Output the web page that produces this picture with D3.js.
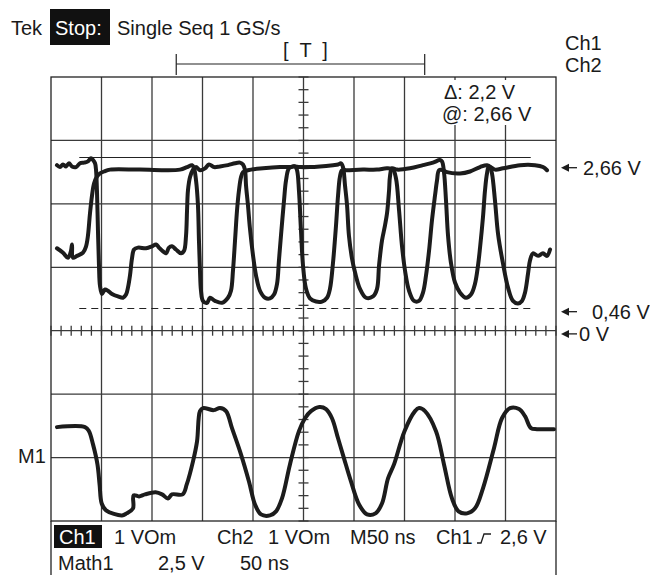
<!DOCTYPE html>
<html>
<head>
<meta charset="utf-8">
<script src="https://cdn.jsdelivr.net/npm/d3@7"></script>
<style>
  body { margin: 0; background: #fff; }
  svg text { font-family: "Liberation Sans", Arial, sans-serif; font-size: 20px; fill: #1a1a1a; }
</style>
</head>
<body>
<svg width="650" height="575"></svg>
<script>
// time in ns (50 ns/div), Ch1/Ch2 in V (1 V/div), Math1 in V (2.5 V/div)
const ch1 = [[5.9,2.61],[8.9,2.58],[11.9,2.62],[14.9,2.59],[17.8,2.64],[20.8,2.59],[24.8,2.58],[28.7,2.64],
  [32.7,2.65],[36.6,2.67],[39.6,2.72],[41.6,2.69],[43.6,2.64],[44.6,2.53],[45.5,2.21],[46.5,1.58],[47.5,1.03],
  [48.5,0.71],[50.5,0.58],[53.5,0.65],[56.4,0.63],[60.4,0.58],[66.3,0.54],[71.3,0.52],[74.3,0.57],[76.2,0.68],
  [78.2,0.87],[80.2,1.14],[82.2,1.28],[86.1,1.31],[94.1,1.30],[100,1.33],[104,1.36],[106.9,1.31],[110.9,1.25],
  [113.9,1.22],[116.8,1.31],[119.8,1.33],[123.8,1.28],[128.7,1.22],[131.7,1.26],[133.7,1.50],[134.7,1.90],
  [135.6,2.21],[137.6,2.42],[140.6,2.54],[143.6,2.58],[147.5,2.53],[152.5,2.56],[156.4,2.62],[161.4,2.58],
  [167.3,2.59],[175.2,2.61],[182.2,2.64],[187.1,2.65],[190.1,2.62],[192.1,2.53],[193.1,2.29],[195,1.98],
  [197,1.61],[200,1.19],[203,0.87],[206.9,0.63],[211.9,0.52],[216.8,0.51],[220.8,0.57],[223.8,0.74],[225.7,1.11],
  [227.7,1.50],[230.7,2.05],[232.7,2.37],[235.6,2.56],[239.6,2.59],[246.5,2.58],[256.4,2.58],[266.3,2.59],
  [279.2,2.61],[284.2,2.62],[287.1,2.64],[289.1,2.58],[291.1,2.29],[293.1,1.98],[295,1.50],[298,1.14],[301,0.92],
  [305.9,0.66],[311.9,0.52],[318.8,0.54],[322.8,0.66],[324.8,1.03],[327.7,1.42],[330.7,1.66],[332.7,1.85],
  [334.7,2.21],[335.6,2.43],[337.6,2.56],[342.6,2.54],[355.4,2.56],[368.3,2.61],[378.2,2.65],[385.1,2.69],
  [387.1,2.67],[389.1,2.50],[391.1,2.05],[393.1,1.50],[396,1.07],[400,0.76],[405,0.60],[410.9,0.52],[415.8,0.57],
  [419.8,0.74],[422.8,1.03],[424.8,1.31],[427.7,1.79],[429.7,2.21],[431.7,2.48],[433.7,2.59],[439.6,2.54],
  [447.5,2.56],[464.4,2.61],[479.2,2.61],[487.1,2.58],[491.1,2.53]];

const ch2 = [[5.9,1.30],[11.9,1.23],[16.8,1.15],[19.8,1.26],[20.8,1.36],[21.8,1.15],[25.7,1.18],[31.7,1.23],
  [34.7,1.33],[36.6,1.50],[38.6,1.85],[40.6,2.13],[42.6,2.32],[45.5,2.43],[48.5,2.48],[52.5,2.51],[58.4,2.54],
  [88.1,2.54],[127.7,2.54],[134.7,2.58],[139.6,2.61],[141.6,2.56],[143.6,2.37],[145.5,1.98],[146.5,1.42],
  [147.5,0.95],[148.5,0.63],[150.5,0.47],[154.5,0.44],[157.4,0.52],[162.4,0.47],[169.3,0.44],[175.2,0.52],
  [178.2,0.63],[180.2,0.95],[182.2,1.42],[184.2,1.90],[186.1,2.21],[188.1,2.42],[190.1,2.50],[195,2.53],
  [209.9,2.56],[226.7,2.58],[236.6,2.58],[241.6,2.59],[243.6,2.53],[245.5,2.21],[247.5,1.58],[249.5,1.03],
  [252.5,0.66],[256.4,0.51],[262.4,0.46],[268.3,0.46],[273.3,0.52],[276.2,0.66],[279.2,1.07],[282.2,1.66],
  [284.2,2.13],[286.1,2.43],[288.1,2.53],[293.1,2.53],[308.9,2.54],[322.8,2.54],[332.7,2.56],[338.6,2.54],
  [341.6,2.40],[344.6,1.90],[347.5,1.34],[350.5,0.95],[354.5,0.63],[359.4,0.47],[364.4,0.47],[368.3,0.60],
  [371.3,0.87],[374.3,1.26],[377.2,1.74],[380.2,2.13],[382.2,2.37],[384.2,2.53],[388.1,2.53],[392.1,2.50],
  [405,2.48],[414.9,2.51],[424.8,2.58],[431.7,2.61],[434.7,2.58],[436.6,2.48],[439.6,2.05],[442.6,1.53],
  [447.5,1.06],[452.5,0.68],[457.4,0.47],[462.4,0.43],[466.3,0.47],[469.3,0.60],[472.3,0.90],[474.3,1.11],
  [477.2,1.22],[482.2,1.18],[487.1,1.22],[491.1,1.18],[494.1,1.28]];

const math1 = [[5.9,1.15],[33.7,1.15],[37.6,0.99],[41.6,0.47],[46,-0.32],[48.1,-1.11],[50.2,-1.86],[54.5,-2.13],
  [70.3,-2.33],[74.8,-2.25],[81.2,-2.05],[81.8,-1.54],[87.1,-1.58],[93.1,-1.50],[103.6,-1.42],[109.9,-1.50],
  [115.8,-1.66],[119.8,-1.50],[130.3,-1.50],[134.4,-1.11],[140.6,-0.20],[144.6,0.59],[147.5,1.78],[150.5,1.90],
  [161.1,1.82],[167.3,1.90],[173.3,1.78],[179.2,1.11],[188.1,0.08],[196,-0.99],[202,-1.90],[207.9,-2.29],
  [216.8,-2.33],[222.8,-2.17],[228.7,-1.66],[236.6,-0.32],[245.5,0.99],[251.5,1.50],[257.4,1.78],[265.8,1.94],
  [272.3,1.86],[278.2,1.50],[284.2,0.71],[290.1,-0.08],[297,-0.99],[305,-1.90],[312.9,-2.29],[321.3,-2.25],
  [327.7,-1.86],[333.7,-0.87],[339.6,-0.32],[350,0.99],[360.4,1.78],[364.4,1.90],[370.3,1.78],[381.2,0.99],
  [389.1,-0.32],[397,-1.66],[403.5,-2.17],[411.9,-2.25],[419.8,-2.05],[427.7,-1.26],[438.6,0.32],[446.5,1.50],
  [454.5,1.90],[463.4,1.86],[469.3,1.58],[475.2,1.11],[481.2,1.07],[498,1.07]];

const cursorLevels = [2.73, 0.35];       // V
const cursorSpan = [28, 475];            // ns
const recordBracket = [124, 370];        // ns
const markerLabels = ["2,66 V", "0,46 V", "0 V"];
const markerLevels = [2.57, 0.30, -0.05];
const cursorText = ["\u0394: 2,2 V", "@: 2,66 V"];
const readoutRow1 = ["1 VOm", "Ch2", "1 VOm", "M50 ns", "Ch1", "2,6 V"];
const readoutRow2 = ["Math1", "2,5 V", "50 ns"];
const mathOffsetDiv = -1.98;
const mathVoltsPerDiv = 2.5;

const svg = d3.select("svg");
const x = d3.scaleLinear().domain([0, 500]).range([51, 556]);
const y = d3.scaleLinear().domain([-3, 4]).range([521, 77]);
const ink = "#1c1c1c";

// graticule
const grid = svg.append("g").attr("stroke", "#3a3a3a").attr("stroke-width", 1.3);
grid.selectAll(".vline").data(d3.range(50, 500, 50)).join("line").attr("class", "vline")
  .attr("x1", d => x(d)).attr("x2", d => x(d)).attr("y1", y(4)).attr("y2", y(-3));
grid.selectAll(".hline").data(d3.range(-2, 4)).join("line").attr("class", "hline")
  .attr("x1", x(0)).attr("x2", x(500)).attr("y1", d => y(d)).attr("y2", d => y(d));
grid.append("rect").attr("x", x(0)).attr("y", y(4)).attr("width", x(500) - x(0)).attr("height", y(-3) - y(4))
  .attr("fill", "none").attr("stroke", "#222");
grid.selectAll(".edge").data([0, 500]).join("line").attr("class", "edge").attr("stroke", "#222")
  .attr("x1", d => x(d)).attr("x2", d => x(d)).attr("y1", y(-3)).attr("y2", 575);

// centre axes with minor ticks
grid.selectAll(".xt").data(d3.range(0, 501, 10)).join("line").attr("class", "xt")
  .attr("x1", d => x(d)).attr("x2", d => x(d)).attr("y1", y(0) - 5).attr("y2", y(0) + 5);
grid.selectAll(".yt").data(d3.range(-15, 21).map(d => d / 5)).join("line").attr("class", "yt")
  .attr("x1", x(250) - 5).attr("x2", x(250) + 5).attr("y1", d => y(d)).attr("y2", d => y(d));

// cursor readout (covers the grid behind it)
svg.append("rect").attr("x", 438).attr("y", 80).attr("width", 100).attr("height", 45).attr("fill", "#fff");
svg.selectAll(".ctext").data(cursorText).join("text").attr("class", "ctext")
  .attr("x", (d, i) => i ? 442 : 444).attr("y", (d, i) => i ? 121 : 99).text(d => d);

// cursors
svg.selectAll(".cursor").data(cursorLevels).join("line").attr("class", "cursor")
  .attr("x1", x(cursorSpan[0])).attr("x2", x(cursorSpan[1]))
  .attr("y1", d => y(d)).attr("y2", d => y(d))
  .attr("stroke", "#222").attr("stroke-width", 1.1)
  .attr("stroke-dasharray", (d, i) => i ? "7,5" : null);

// traces
const line = d3.line().x(d => x(d[0])).y(d => y(d[1])).curve(d3.curveCatmullRom.alpha(0.5));
const mathLine = d3.line().x(d => x(d[0])).y(d => y(d[1] / mathVoltsPerDiv + mathOffsetDiv))
  .curve(d3.curveCatmullRom.alpha(0.5));
svg.selectAll(".trace").data([ch1, ch2]).join("path").attr("class", "trace")
  .attr("d", line).attr("fill", "none").attr("stroke", ink).attr("stroke-width", 4)
  .attr("stroke-linejoin", "round").attr("stroke-linecap", "round");
svg.append("path").datum(math1).attr("d", mathLine).attr("fill", "none").attr("stroke", ink)
  .attr("stroke-width", 4).attr("stroke-linejoin", "round").attr("stroke-linecap", "round");

// header
svg.append("text").attr("x", 11).attr("y", 35).text("Tek");
svg.append("rect").attr("x", 50).attr("y", 9).attr("width", 60).attr("height", 36).attr("fill", "#111");
svg.append("text").attr("x", 55).attr("y", 35).style("fill", "#fff").text("Stop:");
svg.append("text").attr("x", 117).attr("y", 35).text("Single Seq 1 GS/s");
svg.append("text").attr("x", 565).attr("y", 50).text("Ch1");
svg.append("text").attr("x", 565).attr("y", 72).text("Ch2");

// record view bracket
const br = svg.append("g").attr("stroke", "#222").attr("stroke-width", 1.2);
br.append("line").attr("x1", x(recordBracket[0])).attr("x2", x(recordBracket[1])).attr("y1", 64).attr("y2", 64);
br.selectAll(".bend").data(recordBracket).join("line").attr("class", "bend")
  .attr("x1", d => x(d)).attr("x2", d => x(d)).attr("y1", 54).attr("y2", 75);
svg.append("text").attr("x", x(250) + 2).attr("y", 57).attr("text-anchor", "middle")
  .attr("xml:space", "preserve").text("[  T  ]");

// level markers on the right
const mk = svg.selectAll(".marker").data(markerLevels).join("g").attr("class", "marker")
  .attr("transform", d => `translate(0,${y(d)})`);
mk.append("line").attr("x1", 566).attr("x2", 577).attr("stroke", ink).attr("stroke-width", 1.3);
mk.append("path").attr("d", "M561,0 L569,-4 L569,4 Z").attr("fill", ink);
mk.append("text").attr("x", (d, i) => [583, 592, 579][i]).attr("y", 7).text((d, i) => markerLabels[i]);

svg.append("text").attr("x", 18).attr("y", y(mathOffsetDiv) + 7).text("M1");

// bottom readout
svg.append("rect").attr("x", 54).attr("y", 525).attr("width", 48).attr("height", 23).attr("fill", "#111");
svg.append("text").attr("x", 59).attr("y", 544).style("fill", "#fff").text("Ch1");
svg.selectAll(".r1").data(readoutRow1).join("text").attr("class", "r1")
  .attr("x", (d, i) => [114, 217, 268, 350, 436, 500][i]).attr("y", 544).text(d => d);
svg.append("path").attr("d", "M477,543 H481 L484,534 H491").attr("fill", "none")
  .attr("stroke", ink).attr("stroke-width", 1.3);
svg.selectAll(".r2").data(readoutRow2).join("text").attr("class", "r2")
  .attr("x", (d, i) => [58, 158, 240][i]).attr("y", 570).text(d => d);
</script>
</body>
</html>
